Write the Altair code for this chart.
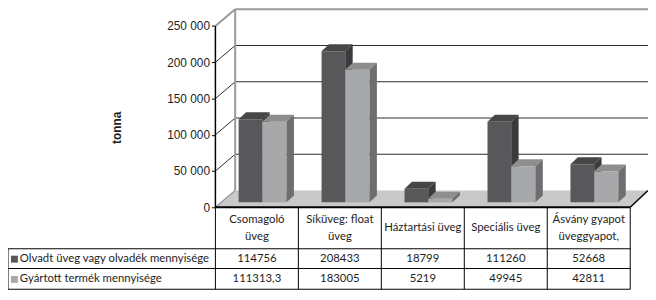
import altair as alt
import pandas as pd

# ---------------- data ----------------
categories = ["Csomagoló\nüveg", "Síküveg: float\nüveg", "Háztartási üveg",
              "Speciális üveg", "Ásvány gyapot\nüveggyapot,"]
series = ["Olvadt üveg vagy olvadék mennyisége", "Gyártott termék mennyisége"]
olvadt = [114756, 208433, 18799, 111260, 52668]
gyartott = [111313.3, 183005, 5219, 49945, 42811]
tick_values = [0, 50000, 100000, 150000, 200000, 250000]
axis_title = "tonna"

# ---------------- layout constants (pixels) ----------------
K = 250000 / 183.5          # value units per pixel
def yv(py):                  # page pixel y -> value
    return (208 - py) * K
def xl(px):                  # page pixel x -> local x
    return px - 218

COLW = 84
NCOL = len(categories)
TABLE_L = xl(8)
FDX, FDY = 20, 17 * K        # floor / wall depth
BDX, BDY = 7.5, 7 * K        # bar depth
BB = 5 * K                   # bar base lift
BAR_OFF = [(23.5, 47.5), (47.5, 72)]
COLORS = [
    {"front": "#58585a", "top": "#474747", "side": "#3b3b3d"},
    {"front": "#a7a8aa", "top": "#8e8e8e", "side": "#6e6e70"},
]
TXT = "#1e1e1e"
NARROW = "Liberation Sans Narrow, Lato, sans-serif"
TFS = 11.5

xscale = alt.Scale(domain=[0, 438], nice=False, zero=False)
yscale = alt.Scale(domain=[yv(292), yv(8)], nice=False, zero=False)
yaxis = alt.Axis(values=tick_values, domain=False, grid=False, tickSize=4,
                 tickColor="#000", tickWidth=1,
                 labelExpr="replace(format(datum.value, ','), ',', ' ')",
                 labelFont="Liberation Sans", labelFontSize=12, labelColor=TXT,
                 labelPadding=2, title=axis_title, titleFont="Liberation Sans",
                 titleFontSize=12, titleFontWeight="bold", titleColor=TXT,
                 titleAngle=270, titleX=-100, titleY=119,
                 titleAlign="center", titleBaseline="middle")

def X(f="x"):
    return alt.X(f, type="quantitative", scale=xscale, axis=None)
def Y(f="y"):
    return alt.Y(f, type="quantitative", scale=yscale, axis=yaxis)

# ---------------- floor ----------------
floor = pd.DataFrame([
    {"y": 0, "x": 0, "x2": 420},
    {"y": FDY, "x": FDX, "x2": 438},
])
floor_layer = alt.Chart(floor).mark_area(orient="horizontal", color="#c9c9c9").encode(
    y=Y(), x=X(), x2=alt.X2("x2"))

# ---------------- back wall rules ----------------
back = []
for v in tick_values:
    if v == 0:
        back.append({"x": 0, "x2": FDX, "y": 0, "y2": FDY, "c": "#9a9a9a", "w": 1.5})
    elif v == tick_values[-1]:
        back.append({"x": FDX, "x2": 438, "y": v + FDY, "y2": v + FDY, "c": "#9a9a9a", "w": 2})
        back.append({"x": 0, "x2": FDX, "y": v, "y2": v + FDY, "c": "#9a9a9a", "w": 2})
    else:
        back.append({"x": FDX, "x2": 438, "y": v + FDY, "y2": v + FDY, "c": "#2a2a2a", "w": 1})
        back.append({"x": 0, "x2": FDX, "y": v, "y2": v + FDY, "c": "#2a2a2a", "w": 1})
back.append({"x": FDX, "x2": FDX, "y": FDY, "y2": tick_values[-1] + FDY, "c": "#9a9a9a", "w": 2})
back_df = pd.DataFrame(back)

def rules(df):
    return alt.Chart(df).mark_rule().encode(
        x=X(), x2=alt.X2("x2"), y=Y(), y2=alt.Y2("y2"),
        color=alt.Color("c:N", scale=None),
        strokeWidth=alt.StrokeWidth("w:Q", scale=None))

back_layer = rules(back_df)

# ---------------- bars ----------------
bar_layers = []
for s, vals in enumerate([olvadt, gyartott]):
    fr, tp, sd = [], [], []
    for i, v in enumerate(vals):
        x0 = i * COLW + BAR_OFF[s][0]
        x1 = i * COLW + BAR_OFF[s][1]
        fr.append({"x": x0, "x2": x1, "y": BB, "y2": BB + v})
        tp.append({"id": i, "y": BB + v, "x": x0, "x2": x1})
        tp.append({"id": i, "y": BB + v + BDY, "x": x0 + BDX, "x2": x1 + BDX})
        sd.append({"id": i, "x": x1, "y": BB, "y2": BB + v})
        sd.append({"id": i, "x": x1 + BDX, "y": BB + BDY, "y2": BB + v + BDY})
    c = COLORS[s]
    bar_layers.append(alt.Chart(pd.DataFrame(fr)).mark_rect(color=c["front"]).encode(
        x=X(), x2=alt.X2("x2"), y=Y(), y2=alt.Y2("y2")))
    bar_layers.append(alt.Chart(pd.DataFrame(tp)).mark_area(orient="horizontal", color=c["top"]).encode(
        y=Y(), x=X(), x2=alt.X2("x2"), detail="id:N"))
    bar_layers.append(alt.Chart(pd.DataFrame(sd)).mark_area(orient="vertical", color=c["side"]).encode(
        x=X(), y=Y(), y2=alt.Y2("y2"), detail="id:N"))

# ---------------- front rules (axis, floor edge, table grid) ----------------
front = [
    {"x": 0, "x2": 0, "y": 0, "y2": tick_values[-1], "c": "#000", "w": 1.5},
    {"x": 420, "x2": 438, "y": 0, "y2": FDY, "c": "#000", "w": 1.5},
    {"x": 0, "x2": 420, "y": yv(208), "y2": yv(208), "c": "#000", "w": 2},
]
for py in [250, 270, 291]:
    front.append({"x": TABLE_L, "x2": 420, "y": yv(py), "y2": yv(py), "c": "#000", "w": 1})
for j in range(NCOL + 1):
    front.append({"x": j * COLW, "x2": j * COLW, "y": yv(208), "y2": yv(291), "c": "#000", "w": 1})
front.append({"x": TABLE_L, "x2": TABLE_L, "y": yv(250), "y2": yv(291), "c": "#000", "w": 1})
front_layer = rules(pd.DataFrame(front))

# ---------------- table text ----------------
def fmt(v):
    return str(v).replace(".", ",") if v != int(v) else str(int(v))

hdr_rows = []
for i, cat in enumerate(categories):
    lines = cat.split("\n")
    ys = [229.5] if len(lines) == 1 else [221, 238]
    for ln, py in zip(lines, ys):
        hdr_rows.append({"x": i * COLW + COLW / 2, "y": yv(py), "t": ln})
hdr_layer = alt.Chart(pd.DataFrame(hdr_rows)).mark_text(
    font=NARROW, fontSize=TFS, color=TXT, align="center", baseline="middle").encode(
    x=X(), y=Y(), text="t:N")

cells = []
for s, vals in enumerate([olvadt, gyartott]):
    py = 260.5 if s == 0 else 281
    for i, v in enumerate(vals):
        cells.append({"x": i * COLW + COLW / 2, "y": yv(py), "t": fmt(v)})
cell_layer = alt.Chart(pd.DataFrame(cells)).mark_text(
    font=NARROW, fontSize=TFS, color=TXT, align="center", baseline="middle").encode(
    x=X(), y=Y(), text="t:N")

rowlab = pd.DataFrame({"x": [xl(20)] * 2, "y": [yv(260.5), yv(281)], "t": series})
rowlab_layer = alt.Chart(rowlab).mark_text(
    font=NARROW, fontSize=TFS, color=TXT, align="left", baseline="middle").encode(
    x=X(), y=Y(), text="t:N")

sw = pd.DataFrame({"x": [xl(11)] * 2, "x2": [xl(18)] * 2,
                   "y": [yv(264), yv(284.5)], "y2": [yv(257), yv(277.5)],
                   "c": [COLORS[0]["front"], COLORS[1]["front"]]})
sw_layer = alt.Chart(sw).mark_rect().encode(
    x=X(), x2=alt.X2("x2"), y=Y(), y2=alt.Y2("y2"),
    color=alt.Color("c:N", scale=None))

chart = alt.layer(floor_layer, back_layer, *bar_layers, front_layer,
                  hdr_layer, cell_layer, rowlab_layer, sw_layer).properties(
    width=438, height=284,
    autosize=alt.AutoSizeParams(type="none"),
    padding={"left": 210, "top": 0, "right": 0, "bottom": 0},
    background="white",
).configure_view(strokeWidth=0)

chart.save("out.html", embed_options={"renderer": "svg", "actions": False})
